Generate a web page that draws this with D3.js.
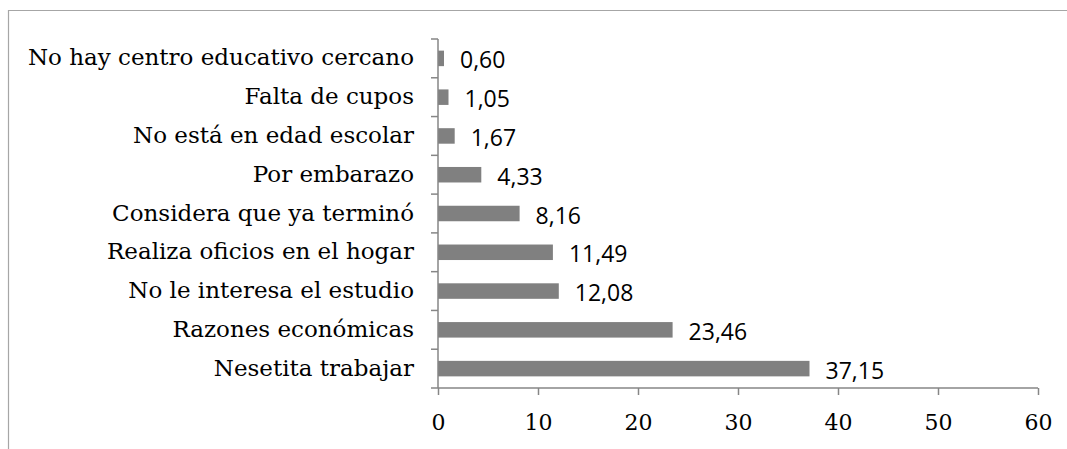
<!DOCTYPE html>
<html>
<head>
<meta charset="utf-8">
<script src="https://cdn.jsdelivr.net/npm/d3@7"></script>
<style>
  body { margin: 0; background: #fff; }
  .cat text { font-family: "DejaVu Serif", serif; font-size: 23px; fill: #000; }
  .xax text { font-family: "DejaVu Serif", serif; font-size: 22px; fill: #000; }
  .val { font-family: "Open Sans", "Liberation Sans", sans-serif; font-size: 23px; fill: #000; }
</style>
</head>
<body>
<div id="chart"></div>
<script>
// reasons (top to bottom) and percentages
var categories = [
  "No hay centro educativo cercano",
  "Falta de cupos",
  "No está en edad escolar",
  "Por embarazo",
  "Considera que ya terminó",
  "Realiza oficios en el hogar",
  "No le interesa el estudio",
  "Razones económicas",
  "Nesetita trabajar"
];
var values = [0.60, 1.05, 1.67, 4.33, 8.16, 11.49, 12.08, 23.46, 37.15];
var xTicks = [0, 10, 20, 30, 40, 50, 60];

const width = 1067;
const height = 449;
const margin = { top: 39, right: 29, bottom: 61, left: 438 };

const svg = d3.select('#chart')
  .append('svg')
  .attr('width', width)
  .attr('height', height);

// outer frame (only top and left edges are visible)
svg.append('path')
  .attr('d', `M8.5,${height} L8.5,10.5 L${width},10.5`)
  .attr('fill', 'none')
  .attr('stroke', '#a6a6a6')
  .attr('stroke-width', 1.2);

const xScale = d3.scaleLinear()
  .domain([0, 60])
  .range([margin.left, width - margin.right]);

const yScale = d3.scaleBand()
  .domain(categories)
  .range([margin.top, height - margin.bottom])
  .paddingInner(0.6)
  .paddingOuter(0.3);

// bars
svg.append('g')
  .selectAll('rect')
  .data(values)
  .join('rect')
  .attr('x', xScale(0))
  .attr('y', (d, i) => yScale(categories[i]))
  .attr('width', d => xScale(d) - xScale(0))
  .attr('height', yScale.bandwidth())
  .attr('fill', '#808080');

// value labels
svg.append('g')
  .selectAll('text')
  .data(values)
  .join('text')
  .attr('class', 'val')
  .attr('x', d => xScale(d) + 16)
  .attr('y', (d, i) => yScale(categories[i]) + yScale.bandwidth() / 2 + 2)
  .attr('dy', '0.35em')
  .text(d => d.toFixed(2).replace('.', ','));

// y axis with category tick marks between bands
const yAxisG = svg.append('g')
  .attr('class', 'cat');
const step = yScale.step();
const yTop = margin.top, yBot = height - margin.bottom;
yAxisG.append('line')
  .attr('x1', xScale(0)).attr('x2', xScale(0))
  .attr('y1', yTop).attr('y2', yBot)
  .attr('stroke', '#868686').attr('stroke-width', 1.5);
yAxisG.selectAll('line.tk')
  .data(d3.range(categories.length + 1))
  .join('line')
  .attr('class', 'tk')
  .attr('x1', xScale(0) - 7).attr('x2', xScale(0))
  .attr('y1', i => yTop + i * step).attr('y2', i => yTop + i * step)
  .attr('stroke', '#868686').attr('stroke-width', 1.5);
yAxisG.selectAll('text')
  .data(categories)
  .join('text')
  .attr('x', xScale(0) - 24)
  .attr('y', d => yScale(d) + yScale.bandwidth() / 2 - 1)
  .attr('dy', '0.35em')
  .attr('text-anchor', 'end')
  .text(d => d);

// x axis
const xAxis = d3.axisBottom(xScale)
  .tickValues(xTicks)
  .tickSize(7)
  .tickPadding(19)
  .tickFormat(d3.format('d'));

const xG = svg.append('g')
  .attr('class', 'xax')
  .attr('transform', `translate(0, ${height - margin.bottom})`)
  .call(xAxis);
xG.select('.domain').attr('stroke', '#868686').attr('stroke-width', 1.5)
  .attr('d', `M${xScale(0)},0H${xScale(60)}`);
xG.selectAll('.tick line').attr('stroke', '#868686').attr('stroke-width', 1.5);
xG.attr('font-family', null).attr('font-size', null);
</script>
</body>
</html>
